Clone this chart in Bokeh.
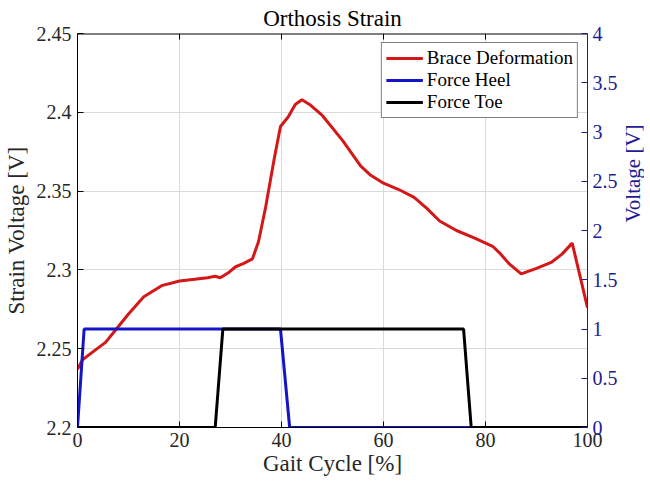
import math
from bokeh.plotting import figure
from bokeh.layouts import row
from bokeh.models import Range1d, LinearAxis, FixedTicker, Legend, LegendItem, Label
from bokeh.embed import file_html
from bokeh.resources import INLINE

# ---- data ----
gait = [0, 1, 3, 5.5, 7.5, 10, 13, 16.5, 20, 23, 25.5, 27, 28, 29.5, 31, 32.5,
        34.3, 35.5, 36.9, 38.6, 39.8, 41.3, 42.7, 44, 45.5, 48, 52, 55.5, 57.5,
        60, 63, 66, 68.5, 71, 74.3, 78, 81.4, 82.7, 84.6, 87, 90, 93, 95, 97, 100]
brace = [2.237, 2.243, 2.248, 2.254, 2.262, 2.272, 2.283, 2.290, 2.293, 2.294,
         2.295, 2.296, 2.295, 2.298, 2.302, 2.304, 2.307, 2.318, 2.340, 2.371,
         2.391, 2.397, 2.405, 2.408, 2.405, 2.398, 2.382, 2.366, 2.360, 2.355,
         2.351, 2.346, 2.339, 2.331, 2.325, 2.320, 2.315, 2.311, 2.304, 2.2975,
         2.301, 2.305, 2.310, 2.317, 2.276]

heel_x = [0, 1.3, 39.8, 41.6, 100]
heel_v = [0, 1, 1, 0, 0]

toe_x = [0, 27.0, 28.5, 75.7, 77.2, 100]
toe_v = [0, 0, 1, 1, 0, 0]

x_lim = (0, 100)
left_lim = (2.2, 2.45)
right_lim = (0, 4)
x_ticks = [0, 20, 40, 60, 80, 100]
left_ticks = [2.2, 2.25, 2.3, 2.35, 2.4, 2.45]
left_tick_labels = ["2.2", "2.25", "2.3", "2.35", "2.4", "2.45"]
right_ticks = [0, 0.5, 1, 1.5, 2, 2.5, 3, 3.5, 4]
right_tick_labels = ["0", "0.5", "1", "1.5", "2", "2.5", "3", "3.5", "4"]

FONT = "Liberation Serif"
TXT = "#262626"
NAVY = "#1c1c96"
RED = "#d41818"
BLUE = "#1414c8"
TICK = 6
FRAME_W = 510
FRAME_H = 394
SIDE_W = 24
SIDE_H = 476

p = figure(frame_width=FRAME_W, frame_height=FRAME_H, x_range=Range1d(*x_lim),
           y_range=Range1d(*left_lim), output_backend="svg",
           toolbar_location=None, min_border=0,
           background_fill_color="white", border_fill_color="white")
p.outline_line_color = None

p.title.text = "Orthosis Strain"
p.title.align = "center"
p.title.text_font = FONT
p.title.text_font_size = "23px"
p.title.text_font_style = "normal"
p.title.text_color = "black"
p.title.standoff = 6

# axes
xa = p.xaxis[0]
xa.ticker = FixedTicker(ticks=x_ticks)
xa.axis_label = "Gait Cycle [%]"
ya = p.yaxis[0]
ya.ticker = FixedTicker(ticks=left_ticks)
ya.major_label_overrides = dict(zip(left_ticks, left_tick_labels))
ya.axis_label = "Strain Voltage [V]"

p.extra_y_ranges = {"v": Range1d(*right_lim)}
ra = LinearAxis(y_range_name="v", ticker=FixedTicker(ticks=right_ticks))
ra.major_label_overrides = dict(zip(right_ticks, right_tick_labels))
p.add_layout(ra, "right")

for ax in [xa, ya, ra]:
    ax.major_tick_in = TICK
    ax.major_tick_out = 0
    ax.minor_tick_line_color = None
    ax.axis_line_width = 1
    ax.major_label_text_font = FONT
    ax.major_label_text_font_size = "20px"
    ax.axis_label_text_font = FONT
    ax.axis_label_text_font_size = "23px"
    ax.axis_label_text_font_style = "normal"

xa.major_label_standoff = 5
xa.axis_label_standoff = 1
ya.major_label_standoff = 6
ya.axis_label_standoff = 5
ra.major_label_standoff = 5

for ax in [xa, ya]:
    ax.axis_line_color = "black"
    ax.major_tick_line_color = "black"
    ax.major_label_text_color = TXT
    ax.axis_label_text_color = TXT

ra.axis_line_color = NAVY
ra.major_tick_line_color = NAVY
ra.major_label_text_color = NAVY

p.xgrid.ticker = FixedTicker(ticks=x_ticks)
p.ygrid.ticker = FixedTicker(ticks=left_ticks)
for g in [p.xgrid[0], p.ygrid[0]]:
    g.grid_line_color = "#dadada"
    g.grid_line_width = 1

# top box edge with inward ticks
top = left_lim[1]
tick_len = (left_lim[1] - left_lim[0]) * TICK / FRAME_H
p.segment(x0=[x_lim[0]], y0=[top], x1=[x_lim[1]], y1=[top],
          line_color="black", line_width=2)
p.segment(x0=x_ticks, y0=[top] * len(x_ticks), x1=x_ticks,
          y1=[top - tick_len] * len(x_ticks), line_color="black", line_width=1)

r_brace = p.line(gait, brace, line_color=RED, line_width=3)
r_heel = p.line(heel_x, heel_v, line_color=BLUE, line_width=3, y_range_name="v")
r_toe = p.line(toe_x, toe_v, line_color="black", line_width=3, y_range_name="v")

legend = Legend(items=[LegendItem(label="Brace Deformation", renderers=[r_brace]),
                       LegendItem(label="Force Heel", renderers=[r_heel]),
                       LegendItem(label="Force Toe", renderers=[r_toe])],
                location="top_right")
legend.margin = 9
legend.padding = 4
legend.spacing = 0
legend.glyph_width = 37
legend.glyph_height = 22
legend.label_height = 22
legend.label_standoff = 4
legend.label_text_font = FONT
legend.label_text_font_size = "19px"
legend.label_text_color = "black"
legend.border_line_color = "black"
legend.border_line_width = 1
legend.background_fill_color = "white"
legend.background_fill_alpha = 1
p.add_layout(legend)

# narrow strip to the right holding the right-axis title (reads bottom to top)
side = figure(width=SIDE_W, height=SIDE_H, x_range=Range1d(0, 1), y_range=Range1d(0, 1),
              output_backend="svg", toolbar_location=None,
              x_axis_location=None, y_axis_location=None, min_border=0,
              background_fill_color="white", border_fill_color="white")
side.outline_line_color = None
side.xgrid.visible = False
side.ygrid.visible = False
side.add_layout(Label(x=SIDE_W / 2, y=SIDE_H - 27 - FRAME_H / 2, x_units="screen",
                      y_units="screen", text="Voltage [V]", angle=math.pi / 2,
                      text_align="center", text_baseline="middle",
                      text_font=FONT, text_font_size="21px", text_color=NAVY))

layout = row(p, side)
open("out.html", "w").write(file_html(layout, INLINE))
